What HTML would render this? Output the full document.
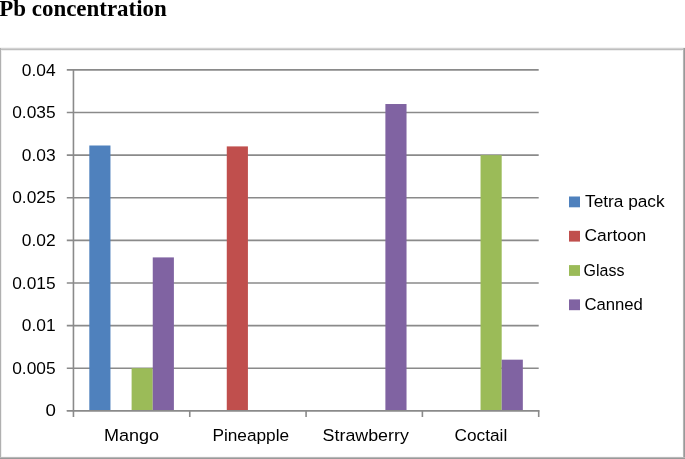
<!DOCTYPE html>
<html><head><meta charset="utf-8"><style>
html,body{margin:0;padding:0;background:#fff;}
body{width:685px;height:459px;overflow:hidden;position:relative;}
svg{position:absolute;left:0;top:0;will-change:transform;}
.t{font-family:"Liberation Sans",sans-serif;font-size:16.8px;fill:#000;}
.ti{font-family:"Liberation Serif",serif;font-size:23.0px;font-weight:bold;fill:#000;}
</style></head><body>
<svg width="685" height="459" viewBox="0 0 685 459" shape-rendering="geometricPrecision">
<defs><filter id="b" x="-5%" y="-5%" width="110%" height="110%"><feGaussianBlur stdDeviation="0.45"/></filter></defs>
<g filter="url(#b)">
<rect x="0" y="0" width="685" height="459" fill="#fff"/>
<line x1="66.8" y1="410.80" x2="538.7" y2="410.80" stroke="#8a8a8a" stroke-width="1.6"/>
<line x1="66.8" y1="368.19" x2="538.7" y2="368.19" stroke="#8a8a8a" stroke-width="1.6"/>
<line x1="66.8" y1="325.58" x2="538.7" y2="325.58" stroke="#8a8a8a" stroke-width="1.6"/>
<line x1="66.8" y1="282.97" x2="538.7" y2="282.97" stroke="#8a8a8a" stroke-width="1.6"/>
<line x1="66.8" y1="240.36" x2="538.7" y2="240.36" stroke="#8a8a8a" stroke-width="1.6"/>
<line x1="66.8" y1="197.75" x2="538.7" y2="197.75" stroke="#8a8a8a" stroke-width="1.6"/>
<line x1="66.8" y1="155.14" x2="538.7" y2="155.14" stroke="#8a8a8a" stroke-width="1.6"/>
<line x1="66.8" y1="112.53" x2="538.7" y2="112.53" stroke="#8a8a8a" stroke-width="1.6"/>
<line x1="66.8" y1="69.92" x2="538.7" y2="69.92" stroke="#8a8a8a" stroke-width="1.6"/>
<rect x="89.31" y="145.50" width="21.15" height="265.30" fill="#4F81BD"/>
<rect x="131.61" y="368.19" width="21.15" height="42.61" fill="#9BBB59"/>
<rect x="152.75" y="257.40" width="21.15" height="153.40" fill="#8064A2"/>
<rect x="226.77" y="146.40" width="21.15" height="264.40" fill="#C0504D"/>
<rect x="385.38" y="104.01" width="21.15" height="306.79" fill="#8064A2"/>
<rect x="480.54" y="155.14" width="21.15" height="255.66" fill="#9BBB59"/>
<rect x="501.69" y="359.67" width="21.15" height="51.13" fill="#8064A2"/>
<line x1="73.45" y1="69.12" x2="73.45" y2="410.8" stroke="#8a8a8a" stroke-width="1.6"/>
<line x1="66.8" y1="410.8" x2="539.5" y2="410.8" stroke="#8a8a8a" stroke-width="1.6"/>
<line x1="73.45" y1="410.8" x2="73.45" y2="417.0" stroke="#8a8a8a" stroke-width="1.6"/>
<line x1="189.76" y1="410.8" x2="189.76" y2="417.0" stroke="#8a8a8a" stroke-width="1.6"/>
<line x1="306.08" y1="410.8" x2="306.08" y2="417.0" stroke="#8a8a8a" stroke-width="1.6"/>
<line x1="422.39" y1="410.8" x2="422.39" y2="417.0" stroke="#8a8a8a" stroke-width="1.6"/>
<line x1="538.70" y1="410.8" x2="538.70" y2="417.0" stroke="#8a8a8a" stroke-width="1.6"/>
<rect x="569" y="196.50" width="11" height="10.8" fill="#4F81BD"/>
<rect x="569" y="230.80" width="11" height="10.8" fill="#C0504D"/>
<rect x="569" y="265.10" width="11" height="10.8" fill="#9BBB59"/>
<rect x="569" y="299.40" width="11" height="10.8" fill="#8064A2"/>
<text x="-0.80" y="15.50" textLength="167.63" lengthAdjust="spacingAndGlyphs" class="ti">Pb concentration</text>
<text x="45.60" y="416.40" textLength="10.39" lengthAdjust="spacingAndGlyphs" class="t">0</text>
<text x="12.20" y="373.79" textLength="43.45" lengthAdjust="spacingAndGlyphs" class="t">0.005</text>
<text x="21.80" y="331.18" textLength="33.90" lengthAdjust="spacingAndGlyphs" class="t">0.01</text>
<text x="12.20" y="288.57" textLength="43.45" lengthAdjust="spacingAndGlyphs" class="t">0.015</text>
<text x="21.80" y="245.96" textLength="33.90" lengthAdjust="spacingAndGlyphs" class="t">0.02</text>
<text x="12.20" y="203.35" textLength="43.45" lengthAdjust="spacingAndGlyphs" class="t">0.025</text>
<text x="21.80" y="160.74" textLength="33.87" lengthAdjust="spacingAndGlyphs" class="t">0.03</text>
<text x="12.20" y="118.13" textLength="43.45" lengthAdjust="spacingAndGlyphs" class="t">0.035</text>
<text x="21.80" y="75.52" textLength="33.84" lengthAdjust="spacingAndGlyphs" class="t">0.04</text>
<text x="104.00" y="440.80" textLength="55.14" lengthAdjust="spacingAndGlyphs" class="t">Mango</text>
<text x="212.40" y="440.80" textLength="76.68" lengthAdjust="spacingAndGlyphs" class="t">Pineapple</text>
<text x="322.60" y="440.80" textLength="86.25" lengthAdjust="spacingAndGlyphs" class="t">Strawberry</text>
<text x="454.60" y="440.80" textLength="52.68" lengthAdjust="spacingAndGlyphs" class="t">Coctail</text>
<text x="585.00" y="207.10" textLength="79.60" lengthAdjust="spacingAndGlyphs" class="t">Tetra pack</text>
<text x="584.40" y="241.40" textLength="61.89" lengthAdjust="spacingAndGlyphs" class="t">Cartoon</text>
<text x="583.60" y="275.70" textLength="40.86" lengthAdjust="spacingAndGlyphs" class="t">Glass</text>
<text x="584.40" y="310.00" textLength="58.47" lengthAdjust="spacingAndGlyphs" class="t">Canned</text>
</g>
<rect x="0" y="47" width="685" height="1" fill="#f4f4f4"/>
<rect x="0" y="48" width="685" height="1" fill="#d2d2d2"/>
<rect x="0" y="49" width="685" height="1" fill="#bebebe"/>
<rect x="0" y="50" width="685" height="1" fill="#efefef"/>
<rect x="1" y="50" width="1" height="407" fill="#f0f0f0"/>
<rect x="0" y="48" width="1" height="411" fill="#b0b0b0"/>
<rect x="682" y="50" width="1" height="406" fill="#fafafa"/>
<rect x="683" y="48" width="1" height="411" fill="#b4b4b4"/>
<rect x="684" y="48" width="1" height="411" fill="#999999"/>
<rect x="2" y="456" width="680" height="1" fill="#f8f8f8"/>
<rect x="0" y="457" width="685" height="1" fill="#b8b8b8"/>
<rect x="0" y="458" width="685" height="1" fill="#999999"/>
</svg>
</body></html>
